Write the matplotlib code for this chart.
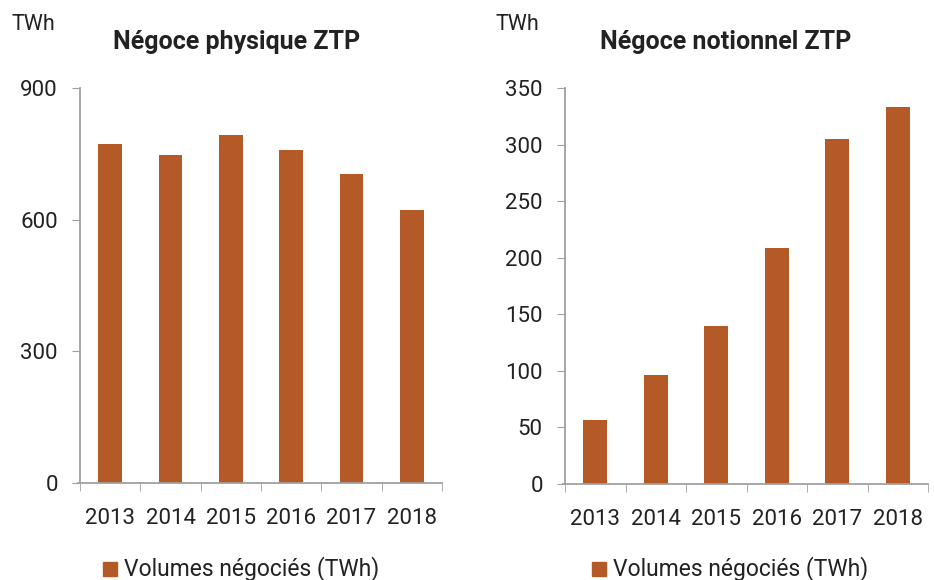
import numpy as np
import matplotlib.pyplot as plt
from matplotlib.patches import Rectangle

years = ["2013", "2014", "2015", "2016", "2017", "2018"]
physique = [772, 747, 793, 759, 704, 622]
notionnel = [57, 96, 140, 209, 305, 333]
legend_label = "Volumes négociés (TWh)"

bar_color = "#B35A27"
axis_color = "#A0A0A0"
text_color = "#222222"

plt.rcParams['font.family'] = ['Roboto', 'DejaVu Sans']

fig = plt.figure(figsize=(9.34, 5.8), dpi=100)


def draw_panel(rect, values, ymax, yticks, title, title_x, unit_x, legend_x):
    ax = fig.add_axes(rect)
    x = np.arange(len(years))
    ax.bar(x, values, width=0.39, color=bar_color)
    ax.set_xlim(-0.5, len(years) - 0.5)
    ax.set_ylim(0, ymax)
    ax.set_yticks(yticks)
    ax.set_yticklabels([str(t) for t in yticks], fontsize=16, color=text_color)
    ax.set_xticks(x)
    ax.set_xticklabels(years, fontsize=16, color=text_color)
    ax.set_xticks(np.arange(-0.5, len(years)), minor=True)
    ax.tick_params(axis='x', which='major', length=0, pad=18)
    ax.tick_params(axis='x', which='minor', length=6, color=axis_color, direction='out')
    ax.tick_params(axis='y', length=6, color=axis_color, direction='out', pad=10)
    for s in ['top', 'right']:
        ax.spines[s].set_visible(False)
    for s in ['left', 'bottom']:
        ax.spines[s].set_color(axis_color)
        ax.spines[s].set_linewidth(1.3)
    ax.spines['bottom'].set_bounds(-0.5 - 0.04, len(years) - 0.5)

    fig.text(title_x, 1 - 42 / 580, title, fontsize=18, fontweight='bold',
             color=text_color, ha='center', va='center')
    fig.text(unit_x, 1 - 24 / 580, "TWh", fontsize=15.5, color=text_color,
             ha='left', va='center')
    # legend
    fig.patches.append(Rectangle((legend_x / 934, 1 - 576 / 580), 14 / 934, 14 / 580,
                                 transform=fig.transFigure, color=bar_color))
    fig.text((legend_x + 21) / 934, 1 - 569 / 580, legend_label, fontsize=16.5,
             color=text_color, ha='left', va='center')
    return ax


draw_panel([80 / 934, 1 - 483 / 580, 362 / 934, 395 / 580], physique, 900,
           [0, 300, 600, 900], "Négoce physique ZTP", 237 / 934, 12 / 934, 103)
draw_panel([565 / 934, 1 - 484 / 580, 363 / 934, 396 / 580], notionnel, 350,
           [0, 50, 100, 150, 200, 250, 300, 350], "Négoce notionnel ZTP",
           726 / 934, 495 / 934, 592)

plt.savefig("out.png", dpi=100)
